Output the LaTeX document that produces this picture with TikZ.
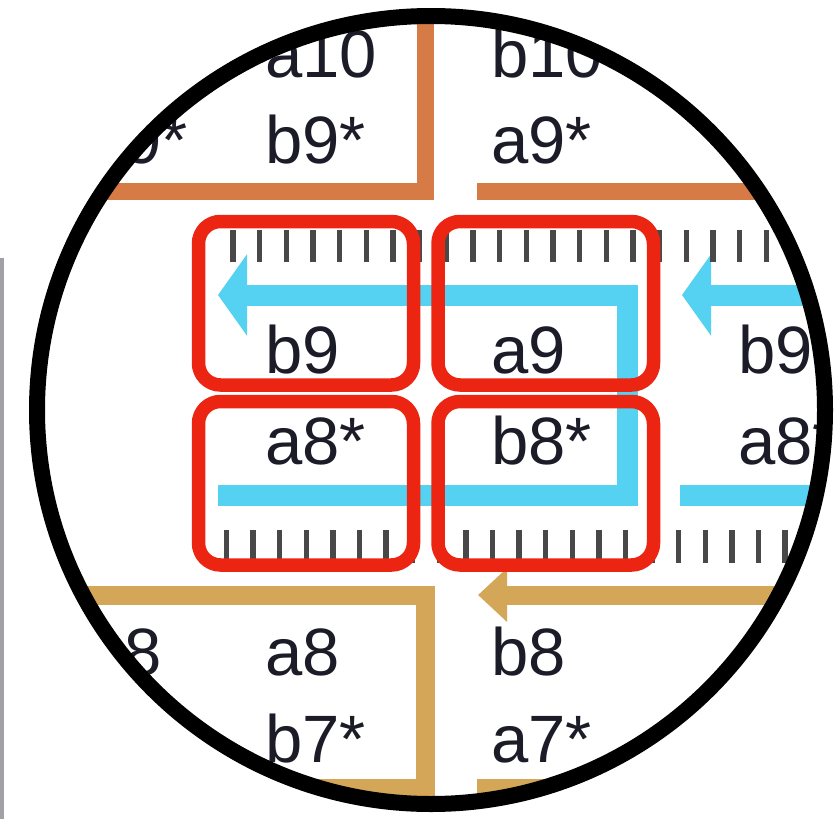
\documentclass[tikz,border=0pt]{standalone}
\usepackage{fontspec}
\setmainfont{Liberation Sans}
\usetikzlibrary{arrows.meta}
\definecolor{ringred}{RGB}{236,36,18}
\definecolor{strandblue}{RGB}{85,209,241}
\definecolor{rustorange}{RGB}{214,123,69}
\definecolor{tanband}{RGB}{212,166,87}
\definecolor{inkc}{RGB}{28,28,40}
\definecolor{tickc}{RGB}{72,72,72}
\definecolor{edgegray}{RGB}{160,160,165}
\begin{document}
\begin{tikzpicture}[x=1pt,y=-1pt,
  txt/.style={anchor=base west, inner sep=0pt, outer sep=0pt, text=inkc, font=\fontsize{67}{67}\selectfont},
  rustline/.style={draw=rustorange, line width=17pt, line join=miter, line cap=butt},
  tanline/.style={draw=tanband, line width=19pt, line join=miter, line cap=butt},
  blueline/.style={draw=strandblue, line width=21pt, line join=miter, line cap=butt},
  tickmark/.style={draw=tickc, line width=5.5pt},
  redbox/.style={draw=ringred, line width=13.5pt, rounded corners=22pt},
  lens/.style={draw=black, line width=16pt}]
\useasboundingbox (0,0) rectangle (835,819);
\fill[white] (0,0) rectangle (835,819);
\draw[draw=edgegray, line width=4pt] (2,258) -- (2,819);
\coordinate (lc) at (431,410);
\begin{scope}
  \clip (lc) circle[radius=394pt];
  % orange (top) strand pieces
  \draw[rustline] (425,0) -- (425,191) -- (0,191);
  \draw[rustline] (477,191) -- (835,191);
  % tan (bottom) strand pieces
  \draw[tanline] (0,595) -- (425,595) -- (425,788) -- (0,788);
  \draw[tanline, -{Triangle[length=29pt,width=52pt]}] (835,595) -- (478,595);
  \draw[tanline] (477,788) -- (835,788);
  % blue strands
  \draw[blueline, -{Triangle[length=29pt,width=80pt]}] (218,495) -- (627,495) -- (627,295) -- (218,295);
  \draw[blueline, -{Triangle[length=29pt,width=80pt]}] (835,295) -- (682,295);
  \draw[blueline] (680,495) -- (835,495);
  % ticks
  \foreach \k in {0,...,23} {
    \draw[tickmark] ({233+26.67*\k},230) -- ({233+26.67*\k},262);
    \draw[tickmark] ({226.5+26.6*\k},530) -- ({226.5+26.6*\k},563);
  }
  % labels
  \node[txt] (ta1) at (265,77) {a10};
  \node[txt] (tb1) at (491,77) {b10};
  \node[txt] (ta0) at (87,163) {a9*};
  \node[txt] (tb9s) at (265,163) {b9*};
  \node[txt] (ta9s) at (491,163) {a9*};
  \node[txt] (mb9) at (265,373) {b9};
  \node[txt] (ma9) at (491,373) {a9};
  \node[txt] (mb9r) at (738,373) {b9};
  \node[txt] (ma8s) at (265,464) {a8*};
  \node[txt] (mb8s) at (491,464) {b8*};
  \node[txt] (ma8sr) at (738,464) {a8*};
  \node[txt] (bb0) at (87,675) {b8};
  \node[txt] (ba8) at (265,675) {a8};
  \node[txt] (bb8) at (491,675) {b8};
  \node[txt] (ba8r) at (739,675) {a8};
  \node[txt] (bb7s) at (265,762) {b7*};
  \node[txt] (ba7s) at (491,762) {a7*};
\end{scope}
% highlight boxes
\draw[redbox] (198.5,221.5) rectangle (413.5,385);
\draw[redbox] (438,221.5) rectangle (653.5,385);
\draw[redbox] (198.5,401.5) rectangle (413.5,565);
\draw[redbox] (438,401.5) rectangle (653.5,565);
% lens ring
\draw[lens] (lc) circle[radius=394pt];
\end{tikzpicture}
\end{document}
